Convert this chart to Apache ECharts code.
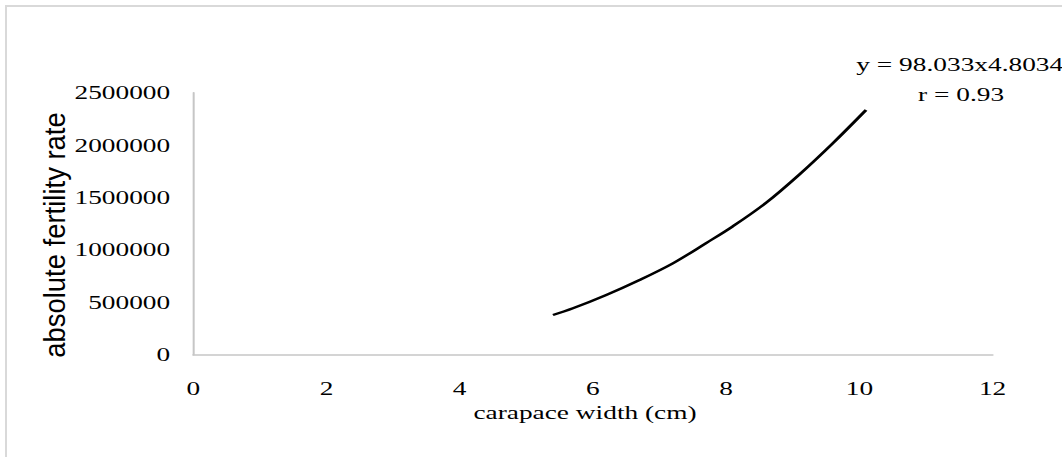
<!DOCTYPE html>
<html>
<head>
<meta charset="utf-8">
<script src="https://cdn.jsdelivr.net/npm/echarts@6/dist/echarts.min.js"></script>
<style>
    html, body { margin: 0; padding: 0; background: #fff; overflow: hidden; }
    #frame {
        position: absolute; left: 5px; top: 5px;
        width: 1200px; height: 600px;
        border: 2px solid #d9d9d9;
    }
    /* the source picture is stretched sideways, so draw narrow and widen */
    #chart {
        position: absolute; left: 0; top: 0;
        width: 738px; height: 457px;
        transform: scaleX(1.44);
        transform-origin: 0 0;
    }
</style>
</head>
<body>
<div id="frame"></div>
<div id="chart"></div>
<script>
const STRETCH = 1.44;

// Trend line
const carapaceWidth = [5.4, 5.7, 6.2, 6.7, 7.2, 7.7, 8.1, 8.6, 9.1, 9.6, 10.1];
const fertility = [379000, 443000, 570000, 713000, 872000, 1065000, 1225000, 1450000, 1720000, 2017000, 2335000];

const xTicks = [0, 12, 2];           // min, max, step
const yTicks = [0, 2500000, 500000]; // min, max, step

const xName = 'carapace width (cm)';
const yName = 'absolute fertility rate';
const equationLines = ['y = 98.033x4.8034', 'r = 0.93'];

const serif = '"Liberation Serif", "Times New Roman", serif';

const chart = echarts.init(document.getElementById('chart'), null, { renderer: 'svg' });

const option = {
    animation: false,
    grid: {
        left: 134.2,
        right: 48.7,
        top: 92.7,
        bottom: 102.3,
        containLabel: false,
        outerBoundsMode: 'none'
    },
    xAxis: {
        type: 'value',
        min: xTicks[0],
        max: xTicks[1],
        interval: xTicks[2],
        name: xName,
        nameLocation: 'middle',
        nameGap: 42,
        nameTextStyle: { fontFamily: serif, fontSize: 19, color: '#000', padding: [0, 11, 0, 0] },
        axisLine: { show: true, lineStyle: { color: '#c6c6c6', width: 1.6 } },
        axisTick: { show: false },
        splitLine: { show: false },
        axisLabel: { fontFamily: serif, fontSize: 19, color: '#000', margin: 24 }
    },
    yAxis: {
        type: 'value',
        min: yTicks[0],
        max: yTicks[1],
        interval: yTicks[2],
        axisLine: { show: true, lineStyle: { color: '#c6c6c6', width: 1.4 } },
        axisTick: { show: false },
        splitLine: { show: false },
        axisLabel: {
            fontFamily: serif, fontSize: 19, color: '#000', margin: 16,
            formatter: v => String(v)
        }
    },
    graphic: [
        {
            type: 'text',
            x: 38,
            y: 235,
            rotation: Math.PI / 2,
            scaleX: 0.93,
            scaleY: 1 / STRETCH,
            style: {
                text: yName,
                font: '29.5px "Liberation Sans", Arial, sans-serif',
                fill: '#000',
                align: 'center', verticalAlign: 'middle',
                textAlign: 'center', textVerticalAlign: 'middle'
            }
        },
        {
            type: 'text',
            x: 666.5,
            y: 65,
            style: {
                text: equationLines[0],
                font: '19px ' + serif,
                fill: '#000',
                align: 'center', verticalAlign: 'middle',
                textAlign: 'center', textVerticalAlign: 'middle'
            }
        },
        {
            type: 'text',
            x: 667.4,
            y: 94.5,
            style: {
                text: equationLines[1],
                font: '19px ' + serif,
                fill: '#000',
                align: 'center', verticalAlign: 'middle',
                textAlign: 'center', textVerticalAlign: 'middle'
            }
        }
    ],
    series: [{
        type: 'line',
        data: carapaceWidth.map((w, i) => [w, fertility[i]]),
        smooth: 0.35,
        showSymbol: false,
        lineStyle: { color: '#000', width: 2.3 }
    }]
};

chart.setOption(option);
</script>
</body>
</html>
